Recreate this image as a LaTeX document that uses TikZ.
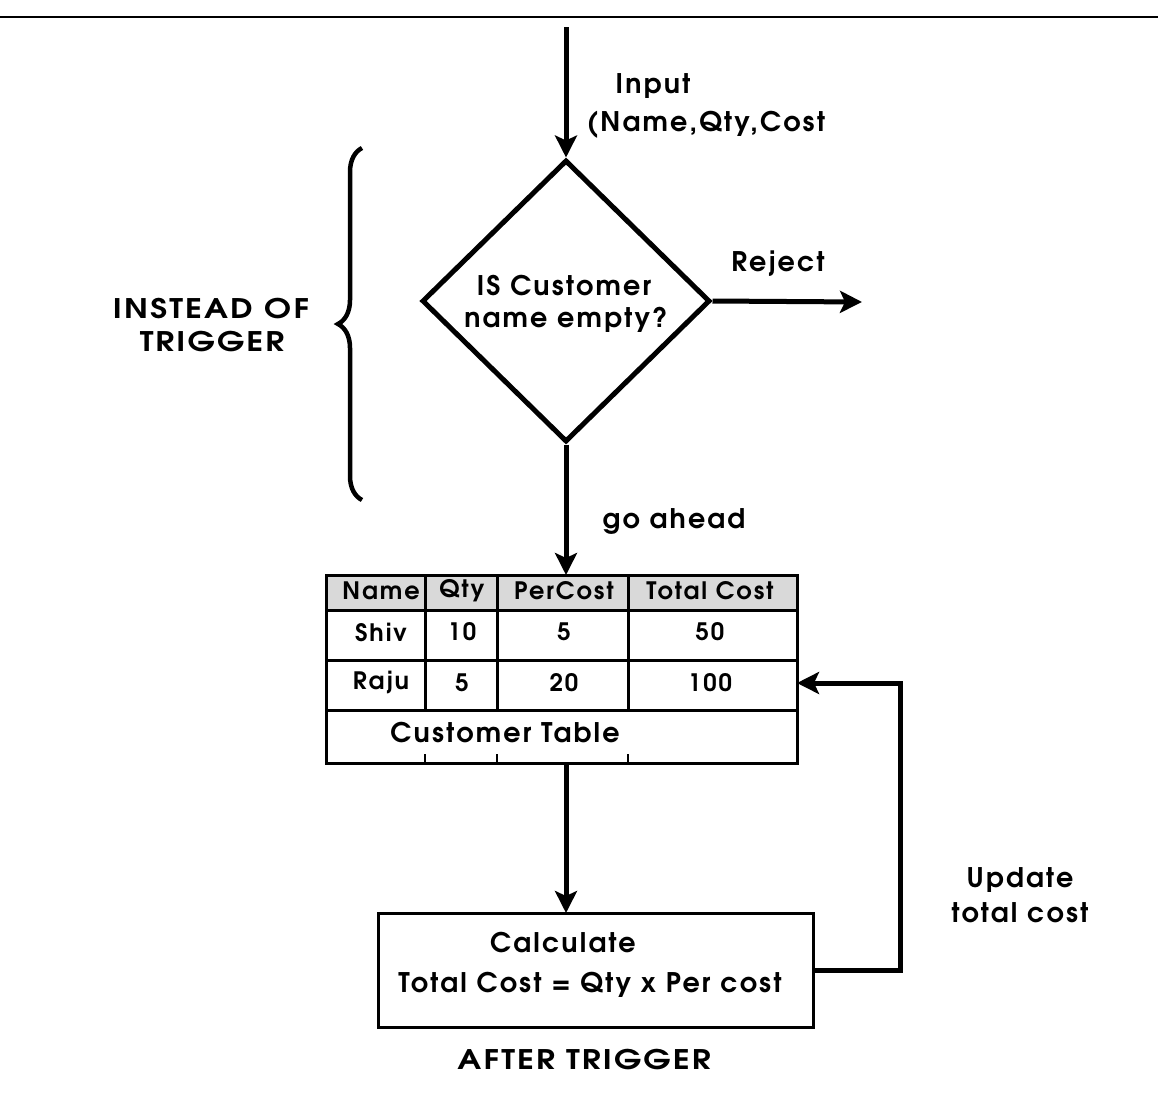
\documentclass[tikz,border=0pt]{standalone}
\usepackage{fontspec}
\setmainfont{TeX Gyre Adventor}
\newfontfamily\lblfont{TeX Gyre Adventor}[LetterSpace=8]
\newfontfamily\capsfont{TeX Gyre Adventor}[LetterSpace=8,FakeStretch=1.2]
\usetikzlibrary{arrows.meta,shapes.geometric,decorations.pathreplacing}
\begin{document}
\begin{tikzpicture}[x=1pt,y=-1pt,
  font=\lblfont\fontsize{27}{31}\selectfont\bfseries,
  arr/.style={line width=5pt,-{Stealth[length=22pt,width=22pt,inset=5pt]}},
  lbl/.style={inner sep=0pt},
  capslbl/.style={inner sep=0pt,font=\capsfont\fontsize{27}{31}\selectfont\bfseries},
  cell/.style={inner sep=0pt,font=\lblfont\fontsize{24}{28}\selectfont\bfseries}]
\useasboundingbox (0,0) rectangle (1158,1100);
\fill[white] (0,0) rectangle (1158,1100);
\draw[line width=1.5pt] (0,17) -- (1158,17);

% decision
\node[draw,diamond,line width=5pt,minimum width=288pt,minimum height=282pt,inner sep=0pt] (dec) at (566,301) {};
\node[lbl] (q1) at (564,286) {IS Customer};
\node[lbl] (q2) at (566,320) {name empty?};

\coordinate (in) at (566,27);
\draw[arr] (in) -- (dec.north);
\node[lbl] (inlbl1) at (653,86) {Input};
\node[lbl] (inlbl2) at (706,125) {(Name,Qty,Cost};

\coordinate (rej) at (862,302);
\draw[arr] (dec.east) -- (rej);
\node[lbl] (rejlbl) at (778,264) {Reject};

% brace
\draw[decorate,decoration={brace,amplitude=24pt},line width=4.5pt] (362,500) -- (362,148);
\node[capslbl] (inst1) at (211,309) {INSTEAD OF};
\node[capslbl] (inst2) at (212,342) {TRIGGER};

% table
\fill[gray!30] (326,575) rectangle (797,610);
\node[draw,line width=3pt,minimum width=471pt,minimum height=188pt,inner sep=0pt,outer sep=0pt,anchor=north west] (tbl) at (326,575) {};
\draw[line width=3pt] (326,610) -- (797,610) (326,660) -- (797,660) (326,710) -- (797,710);
\foreach \x in {425,497,628} {
  \draw[line width=3pt] (\x,575) -- (\x,710);
  \draw[line width=2pt] (\x,754) -- (\x,763);
}
\node[cell] (h1) at (381,591) {Name};
\node[cell] (h2) at (462,591) {Qty};
\node[cell] (h3) at (564,591) {PerCost};
\node[cell] (h4) at (710,591) {Total Cost};
\node[cell] (a1) at (381,632) {Shiv};
\node[cell] (a2) at (462,632) {10};
\node[cell] (a3) at (564,632) {5};
\node[cell] (a4) at (710,632) {50};
\node[cell] (b1) at (381,683) {Raju};
\node[cell] (b2) at (462,683) {5};
\node[cell] (b3) at (564,683) {20};
\node[cell] (b4) at (710,683) {100};
\node[lbl] (cap) at (505,733) {Customer Table};

\draw[arr] (dec.south) -- (tbl.north -| dec.south);
\node[lbl] (go) at (674,521) {go ahead};

% calc box
\node[draw,line width=3pt,minimum width=435pt,minimum height=114pt,inner sep=0pt,outer sep=0pt] (calc) at (595.5,970) {};
\node[lbl] (c1) at (563,943) {Calculate};
\node[lbl] (c2) at (590,985) {Total Cost = Qty x Per cost};
\node[capslbl] (after) at (584,1060) {AFTER TRIGGER};

\draw[arr] (tbl.south -| dec.south) -- (calc.north -| dec.south);

\coordinate (fb) at (900,683);
\draw[arr] (calc.east) -| (fb) -- (tbl.east |- fb);
\node[lbl] (u1) at (1020,880) {Update};
\node[lbl] (u2) at (1020,913) {total cost};
\end{tikzpicture}
\end{document}
